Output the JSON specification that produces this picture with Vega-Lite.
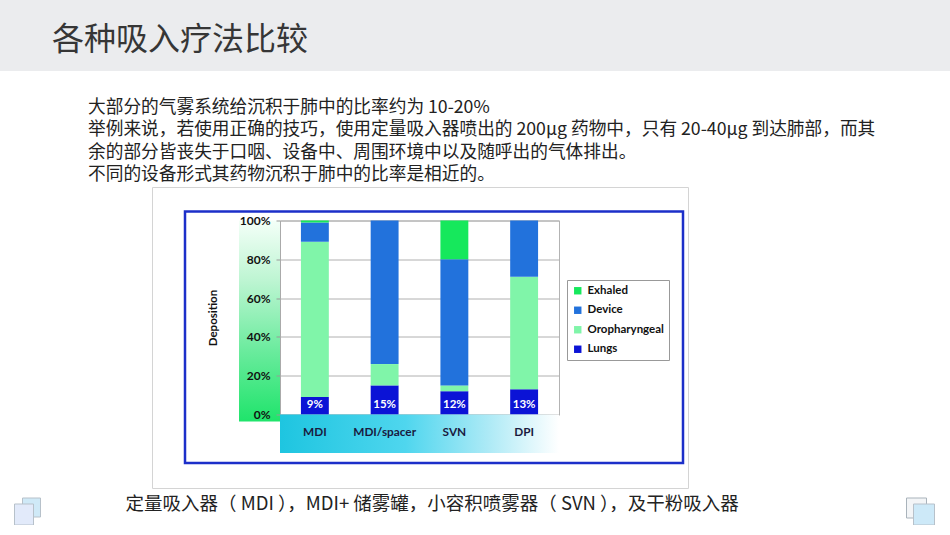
{
  "$schema": "https://vega.github.io/schema/vega-lite/v6.json",
  "background": "white",
  "padding": 0,
  "spacing": 0,
  "bounds": "full",
  "config": {
    "view": {"stroke": null},
    "font": "Noto Sans CJK SC",
    "axis": {"labelOverlap": false}
  },
  "vconcat": [
    {
      "width": 950,
      "height": 71,
      "view": {"fill": "#ebecee", "stroke": null},
      "title": {
        "text": "各种吸入疗法比较",
        "orient": "bottom",
        "anchor": "start",
        "dx": 52,
        "offset": -46,
        "fontSize": 32,
        "fontWeight": "normal",
        "color": "#363636",
        "font": "Noto Sans CJK SC"
      },
      "data": {"values": []},
      "mark": "point"
    },
    {
      "width": 950,
      "height": 115,
      "title": {
        "text": [
          "大部分的气雾系统给沉积于肺中的比率约为 10-20%",
          "举例来说，若使用正确的技巧，使用定量吸入器喷出的 200μg 药物中，只有 20-40μg 到达肺部，而其",
          "余的部分皆丧失于口咽、设备中、周围环境中以及随呼出的气体排出。",
          "不同的设备形式其药物沉积于肺中的比率是相近的。"
        ],
        "orient": "bottom",
        "anchor": "start",
        "dx": 88,
        "offset": -87,
        "fontSize": 17.7,
        "lineHeight": 22.3,
        "fontWeight": "normal",
        "color": "#222222",
        "font": "Noto Sans CJK SC"
      },
      "data": {"values": []},
      "mark": "point"
    },
    {
      "spacing": 24.5,
      "bounds": "flush",
      "vconcat": [
        {
          "spacing": 0,
          "bounds": "flush",
          "hconcat": [
            {"width": 152, "height": 301, "data": {"values": []}, "mark": "point"},
            {"width": 536, "height": 301, "view": {"stroke": "#d4d4d4", "strokeWidth": 1, "fill": "white"}, "data": {"values": []}, "mark": "point"}
          ]
        },
        {
          "spacing": 9,
          "bounds": "flush",
          "vconcat": [
            {
              "spacing": 0,
              "bounds": "flush",
              "hconcat": [
                {"width": 184.5, "height": 251.5, "data": {"values": []}, "mark": "point"},
                {"width": 498, "height": 251.5, "view": {"stroke": "#1c2fc9", "strokeWidth": 2.5, "fill": "white"}, "data": {"values": []}, "mark": "point"}
              ]
            },
            {
              "spacing": 277,
              "bounds": "flush",
              "vconcat": [
                {
                  "spacing": 0,
                  "bounds": "flush",
                  "hconcat": [
                    {"width": 239, "height": 194, "data": {"values": []}, "mark": "point"},
                    {
                      "width": 41,
                      "height": 201,
                      "view": {
                        "stroke": null,
                        "fill": {
                          "gradient": "linear",
                          "x1": 0, "y1": 0, "x2": 0, "y2": 1,
                          "stops": [
                            {"offset": 0, "color": "#f4fff8"},
                            {"offset": 0.3, "color": "#bdf5d2"},
                            {"offset": 0.65, "color": "#6aeb9d"},
                            {"offset": 1, "color": "#1fe46b"}
                          ]
                        }
                      },
                      "data": {"values": []},
                      "mark": "point"
                    },
                    {
                      "width": 279,
                      "height": 194,
                      "view": {"stroke": "#b3b3b3", "strokeWidth": 1},
                      "resolve": {"axis": {"x": "independent", "y": "independent"}},
                      "data": {
                        "values": [
                          {"device": "MDI", "segment": "Lungs", "rank": 1, "value": 0.09},
                          {"device": "MDI", "segment": "Oropharyngeal", "rank": 2, "value": 0.80},
                          {"device": "MDI", "segment": "Device", "rank": 3, "value": 0.10},
                          {"device": "MDI", "segment": "Exhaled", "rank": 4, "value": 0.01},
                          {"device": "MDI/spacer", "segment": "Lungs", "rank": 1, "value": 0.15},
                          {"device": "MDI/spacer", "segment": "Oropharyngeal", "rank": 2, "value": 0.11},
                          {"device": "MDI/spacer", "segment": "Device", "rank": 3, "value": 0.74},
                          {"device": "MDI/spacer", "segment": "Exhaled", "rank": 4, "value": 0.0},
                          {"device": "SVN", "segment": "Lungs", "rank": 1, "value": 0.12},
                          {"device": "SVN", "segment": "Oropharyngeal", "rank": 2, "value": 0.03},
                          {"device": "SVN", "segment": "Device", "rank": 3, "value": 0.65},
                          {"device": "SVN", "segment": "Exhaled", "rank": 4, "value": 0.20},
                          {"device": "DPI", "segment": "Lungs", "rank": 1, "value": 0.13},
                          {"device": "DPI", "segment": "Oropharyngeal", "rank": 2, "value": 0.58},
                          {"device": "DPI", "segment": "Device", "rank": 3, "value": 0.29},
                          {"device": "DPI", "segment": "Exhaled", "rank": 4, "value": 0.0}
                        ]
                      },
                      "layer": [
                        {
                          "mark": {"type": "bar"},
                          "encoding": {
                            "x": {
                              "field": "device",
                              "type": "nominal",
                              "sort": ["MDI", "MDI/spacer", "SVN", "DPI"],
                              "scale": {"paddingInner": 0.6, "paddingOuter": 0.3},
                              "axis": {
                                "title": "定量吸入器（ MDI ），MDI+ 储雾罐，小容积喷雾器（ SVN ），及干粉吸入器",
                                "labelAngle": 0,
                                "labelFont": "Lato",
                                "labelFontWeight": "bold",
                                "labelFontSize": 11.8,
                                "labelColor": "#1a1a40",
                                "labelPadding": 12,
                                "labelOverlap": false,
                                "domain": false,
                                "ticks": false,
                                "zindex": 1,
                                "titleFont": "Noto Sans CJK SC",
                                "titleFontSize": 18.5,
                                "titleFontWeight": "normal",
                                "titleColor": "#222222",
                                "titleX": -155,
                                "titleY": 80,
                                "titleAlign": "left",
                                "titleBaseline": "top"
                              }
                            },
                            "y": {
                              "field": "value",
                              "type": "quantitative",
                              "stack": "zero",
                              "scale": {"domain": [0, 1]},
                              "axis": {
                                "title": "Deposition",
                                "values": [0, 0.2, 0.4, 0.6, 0.8, 1],
                                "format": ".0%",
                                "labelOverlap": false,
                                "labelFont": "Lato",
                                "labelFontWeight": "bold",
                                "labelFontSize": 12,
                                "labelColor": "#111111",
                                "labelPadding": 6,
                                "tickSize": 4,
                                "tickColor": "#999999",
                                "domainColor": "#aaaaaa",
                                "gridColor": "#b0b0b0",
                                "titleFont": "Lato",
                                "titleFontSize": 11.5,
                                "titleFontWeight": "bold",
                                "titleColor": "#111111",
                                "titleX": -67,
                                "titleY": 97,
                                "titleAngle": -90,
                                "titleBaseline": "middle",
                                "titleAlign": "center"
                              }
                            },
                            "color": {
                              "field": "segment",
                              "type": "nominal",
                              "scale": {
                                "domain": ["Exhaled", "Device", "Oropharyngeal", "Lungs"],
                                "range": ["#16e85c", "#2272dc", "#80f5a9", "#0b13d6"]
                              },
                              "legend": {
                                "title": null,
                                "orient": "none",
                                "legendX": 567,
                                "legendY": 280,
                                "strokeColor": "#999999",
                                "fillColor": "white",
                                "padding": 5,
                                "symbolType": "square",
                                "symbolSize": 55,
                                "symbolStrokeWidth": 0,
                                "labelFont": "Lato",
                                "labelFontWeight": "bold",
                                "labelFontSize": 11.5,
                                "labelColor": "#111111",
                                "rowPadding": 6.5,
                                "labelOffset": 4
                              }
                            },
                            "order": {"field": "rank", "sort": "ascending"}
                          }
                        },
                        {
                          "transform": [{"filter": "datum.segment === 'Lungs'"}],
                          "mark": {"type": "text", "color": "white", "font": "Lato", "fontWeight": "bold", "fontSize": 11.5, "baseline": "middle", "dy": -10},
                          "encoding": {
                            "x": {"field": "device", "type": "nominal", "sort": ["MDI", "MDI/spacer", "SVN", "DPI"], "axis": null},
                            "y": {"datum": 0, "axis": null},
                            "text": {"field": "value", "format": ".0%"}
                          }
                        },
                        {
                          "data": {"values": [{}]},
                          "mark": {
                            "type": "rect",
                            "color": {
                              "gradient": "linear",
                              "x1": 0, "y1": 0, "x2": 1, "y2": 0,
                              "stops": [
                                {"offset": 0, "color": "#1ec5e0"},
                                {"offset": 0.45, "color": "#4fd6ee"},
                                {"offset": 0.75, "color": "#aeeaf6"},
                                {"offset": 1, "color": "#ffffff"}
                              ]
                            }
                          },
                          "encoding": {
                            "x": {"value": 0},
                            "x2": {"value": "width"},
                            "y": {"datum": 0, "axis": null},
                            "y2": {"datum": -0.198}
                          }
                        }
                      ]
                    }
                  ]
                },
                {
                  "spacing": 6,
                  "bounds": "flush",
                  "vconcat": [
                    {
                      "spacing": 0,
                      "bounds": "flush",
                      "hconcat": [
                        {"width": 22, "height": 19, "data": {"values": []}, "mark": "point"},
                        {"width": 18, "height": 19, "view": {"fill": "#cfe9f7", "stroke": "#b7c1ca", "strokeWidth": 1}, "data": {"values": []}, "mark": "point"},
                        {"width": 866, "height": 19, "data": {"values": []}, "mark": "point"},
                        {"width": 20, "height": 20, "view": {"fill": "#f3f5f7", "stroke": "#a9b3bb", "strokeWidth": 1}, "data": {"values": []}, "mark": "point"}
                      ]
                    },
                    {
                      "spacing": 0,
                      "bounds": "flush",
                      "hconcat": [
                        {"width": 14, "height": 21, "data": {"values": []}, "mark": "point"},
                        {"width": 19, "height": 21, "view": {"fill": "#e2eafa", "stroke": "#b7c1ca", "strokeWidth": 1}, "data": {"values": []}, "mark": "point"},
                        {"width": 880, "height": 21, "data": {"values": []}, "mark": "point"},
                        {"width": 21, "height": 21, "view": {"fill": "#cde9f8", "stroke": "#b7c1ca", "strokeWidth": 1}, "data": {"values": []}, "mark": "point"}
                      ]
                    }
                  ]
                }
              ]
            }
          ]
        }
      ]
    }
  ]
}
